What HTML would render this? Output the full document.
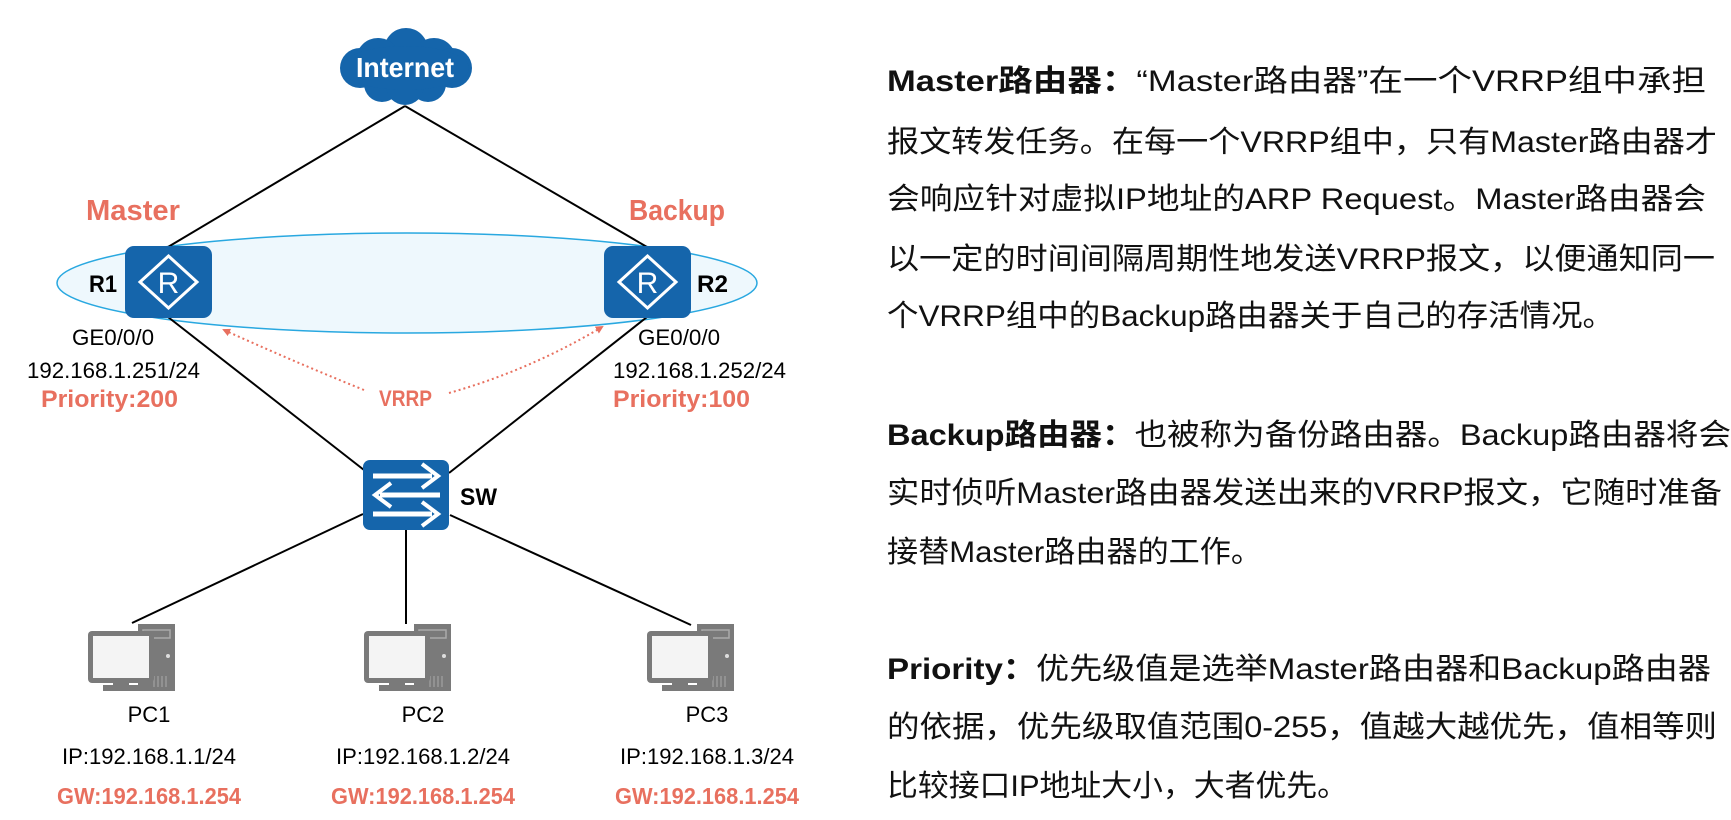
<!DOCTYPE html>
<html><head><meta charset="utf-8"><style>
html,body{margin:0;padding:0;background:#fff;}
svg{display:block;}
.n{font-family:"Liberation Sans Narrow","Liberation Sans",sans-serif;}
.t{font-family:"Liberation Sans","Noto Sans CJK SC",sans-serif;font-size:30px;fill:#111;}
</style></head><body>
<svg width="1731" height="820" viewBox="0 0 1731 820" xmlns="http://www.w3.org/2000/svg">
<defs>
<marker id="ah" markerWidth="8" markerHeight="8" refX="6" refY="4" orient="auto" markerUnits="userSpaceOnUse">
<path d="M0,0 L8,4 L0,8 z" fill="#e8705f"/>
</marker>
<g id="pc">
<rect x="50" y="0" width="37" height="67" fill="#7a7a7a"/>
<rect x="55" y="6" width="27" height="8" fill="none" stroke="#aaa" stroke-width="1.5"/>
<circle cx="80" cy="32" r="2" fill="#ddd"/>
<g stroke="#aaa" stroke-width="1"><line x1="66" y1="52" x2="66" y2="63"/><line x1="70" y1="52" x2="70" y2="63"/><line x1="74" y1="52" x2="74" y2="63"/><line x1="78" y1="52" x2="78" y2="63"/></g>
<rect x="0" y="7" width="66" height="52" rx="4" fill="#7a7a7a"/>
<rect x="5" y="12" width="56" height="42" fill="#f4f4f4"/>
<rect x="25" y="59" width="16" height="3" fill="#7a7a7a"/>
<rect x="15" y="61" width="36" height="6" fill="#7a7a7a"/>
</g>
<g id="rt">
<rect x="0" y="0" width="87" height="72" rx="9" fill="#1565ab"/>
<path d="M43.5,10 L72,36 L43.5,62 L15,36 Z" fill="none" stroke="#fff" stroke-width="3"/>
<text x="43.5" y="47" text-anchor="middle" font-family="Liberation Sans,sans-serif" font-size="30" fill="#fff">R</text>
</g>
</defs>

<ellipse cx="407" cy="283" rx="350" ry="50" fill="#eef8fd" stroke="#29a8e0" stroke-width="1.5"/>

<g stroke="#000" stroke-width="2" fill="none">
<line x1="405" y1="106" x2="168" y2="247"/>
<line x1="405" y1="106" x2="647" y2="247"/>
<line x1="168" y1="317" x2="364" y2="470"/>
<line x1="647" y1="317" x2="449" y2="473"/>
<line x1="363" y1="514" x2="132" y2="623"/>
<line x1="406" y1="530" x2="406" y2="624"/>
<line x1="450" y1="515" x2="691" y2="625"/>
</g>

<g stroke="#e8705f" stroke-width="2" stroke-dasharray="2,3" fill="none">
<path d="M364,390 Q290,360 224,330" marker-end="url(#ah)"/>
<path d="M449,393 Q530,370 602,327" marker-end="url(#ah)"/>
</g>

<g fill="#1565ab">
<circle cx="406" cy="50" r="22"/>
<circle cx="378" cy="60" r="22"/>
<circle cx="434" cy="60" r="22"/>
<circle cx="360" cy="68" r="20"/>
<circle cx="452" cy="68" r="20"/>
<circle cx="382" cy="84" r="18"/>
<circle cx="428" cy="84" r="18"/>
<circle cx="405" cy="86" r="19"/>
<ellipse cx="405" cy="68" rx="64" ry="22"/>
</g>
<text x="405" y="77" text-anchor="middle" class="n" font-size="28" font-weight="bold" fill="#fff" textLength="98" lengthAdjust="spacingAndGlyphs">Internet</text>

<use href="#rt" x="125" y="246"/>
<use href="#rt" x="604" y="246"/>

<rect x="363" y="460" width="86" height="70" rx="7" fill="#1565ab"/>
<g stroke="#fff" stroke-width="5" fill="none" stroke-linecap="butt">
<line x1="373" y1="476" x2="432" y2="476"/><polyline points="422,464 438,476 422,488" stroke-width="4"/>
<line x1="380" y1="495" x2="440" y2="495"/><polyline points="391,483 375,495 391,507" stroke-width="4"/>
<line x1="373" y1="514" x2="432" y2="514"/><polyline points="422,502 438,514 422,526" stroke-width="4"/>
</g>

<use href="#pc" x="88" y="624"/>
<use href="#pc" x="364" y="624"/>
<use href="#pc" x="647" y="624"/>

<g class="n">
<text x="86" y="220" font-size="29" font-weight="bold" fill="#e8705f" textLength="94" lengthAdjust="spacingAndGlyphs">Master</text>
<text x="629" y="220" font-size="29" font-weight="bold" fill="#e8705f" textLength="96" lengthAdjust="spacingAndGlyphs">Backup</text>
<text x="89" y="292" font-size="24" font-weight="bold" fill="#000" textLength="28" lengthAdjust="spacingAndGlyphs">R1</text>
<text x="697" y="292" font-size="24" font-weight="bold" fill="#000" textLength="31" lengthAdjust="spacingAndGlyphs">R2</text>
<text x="72" y="345" font-size="22" fill="#000" textLength="82" lengthAdjust="spacingAndGlyphs">GE0/0/0</text>
<text x="638" y="345" font-size="22" fill="#000" textLength="82" lengthAdjust="spacingAndGlyphs">GE0/0/0</text>
<text x="27" y="378" font-size="22" fill="#000" textLength="173" lengthAdjust="spacingAndGlyphs">192.168.1.251/24</text>
<text x="613" y="378" font-size="22" fill="#000" textLength="173" lengthAdjust="spacingAndGlyphs">192.168.1.252/24</text>
<text x="41" y="407" font-size="24" font-weight="bold" fill="#e8705f" textLength="137" lengthAdjust="spacingAndGlyphs">Priority:200</text>
<text x="613" y="407" font-size="24" font-weight="bold" fill="#e8705f" textLength="137" lengthAdjust="spacingAndGlyphs">Priority:100</text>
<text x="379" y="406" font-size="22" font-weight="bold" fill="#e8705f" textLength="53" lengthAdjust="spacingAndGlyphs">VRRP</text>
<text x="460" y="505" font-size="24" font-weight="bold" fill="#000" textLength="37" lengthAdjust="spacingAndGlyphs">SW</text>
<text x="149" y="722" font-size="22" fill="#000" text-anchor="middle">PC1</text>
<text x="423" y="722" font-size="22" fill="#000" text-anchor="middle">PC2</text>
<text x="707" y="722" font-size="22" fill="#000" text-anchor="middle">PC3</text>
<text x="62" y="764" font-size="22" fill="#000" textLength="174" lengthAdjust="spacingAndGlyphs">IP:192.168.1.1/24</text>
<text x="336" y="764" font-size="22" fill="#000" textLength="174" lengthAdjust="spacingAndGlyphs">IP:192.168.1.2/24</text>
<text x="620" y="764" font-size="22" fill="#000" textLength="174" lengthAdjust="spacingAndGlyphs">IP:192.168.1.3/24</text>
<text x="57" y="804" font-size="23" font-weight="bold" fill="#e8705f" textLength="184" lengthAdjust="spacingAndGlyphs">GW:192.168.1.254</text>
<text x="331" y="804" font-size="23" font-weight="bold" fill="#e8705f" textLength="184" lengthAdjust="spacingAndGlyphs">GW:192.168.1.254</text>
<text x="615" y="804" font-size="23" font-weight="bold" fill="#e8705f" textLength="184" lengthAdjust="spacingAndGlyphs">GW:192.168.1.254</text>
</g>

<g class="t">
<text x="887" y="91" textLength="819" lengthAdjust="spacingAndGlyphs"><tspan font-weight="bold">Master路由器：</tspan>“Master路由器”在一个VRRP组中承担</text>
<text x="887" y="152" textLength="830" lengthAdjust="spacingAndGlyphs">报文转发任务。在每一个VRRP组中，只有Master路由器才</text>
<text x="887" y="209" textLength="819" lengthAdjust="spacingAndGlyphs">会响应针对虚拟IP地址的ARP Request。Master路由器会</text>
<text x="887" y="269" textLength="828" lengthAdjust="spacingAndGlyphs">以一定的时间间隔周期性地发送VRRP报文，以便通知同一</text>
<text x="887" y="326" textLength="727" lengthAdjust="spacingAndGlyphs">个VRRP组中的Backup路由器关于自己的存活情况。</text>
<text x="887" y="445" textLength="844" lengthAdjust="spacingAndGlyphs"><tspan font-weight="bold">Backup路由器：</tspan>也被称为备份路由器。Backup路由器将会</text>
<text x="887" y="503" textLength="835" lengthAdjust="spacingAndGlyphs">实时侦听Master路由器发送出来的VRRP报文，它随时准备</text>
<text x="887" y="562" textLength="375" lengthAdjust="spacingAndGlyphs">接替Master路由器的工作。</text>
<text x="887" y="679" textLength="824" lengthAdjust="spacingAndGlyphs"><tspan font-weight="bold">Priority：</tspan>优先级值是选举Master路由器和Backup路由器</text>
<text x="887" y="737" textLength="830" lengthAdjust="spacingAndGlyphs">的依据，优先级取值范围0-255，值越大越优先，值相等则</text>
<text x="887" y="796" textLength="461" lengthAdjust="spacingAndGlyphs">比较接口IP地址大小，大者优先。</text>
</g>
</svg>
</body></html>
